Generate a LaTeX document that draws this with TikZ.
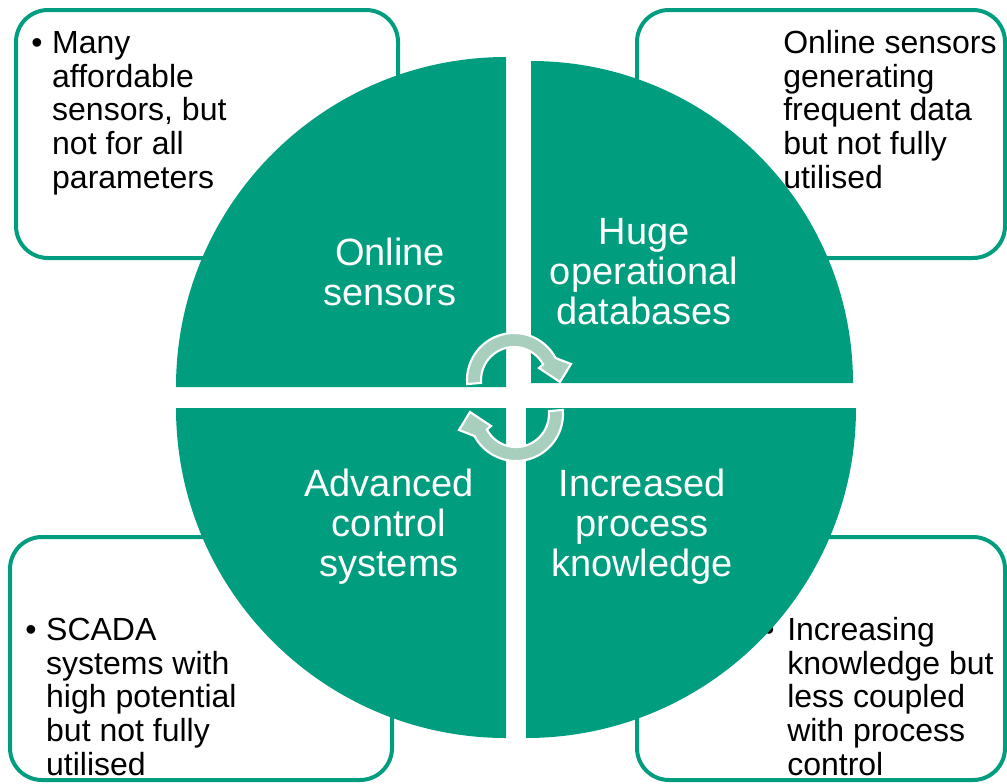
\documentclass[tikz,border=0pt]{standalone}
\usepackage{fontspec}
\setmainfont{Liberation Sans}
\definecolor{cyclegreen}{RGB}{0,158,126}
\definecolor{arrowfill}{RGB}{168,206,190}

\begin{document}
\begin{tikzpicture}[x=0.75pt,y=-0.75pt,
  notebox/.style={draw=cyclegreen, line width=3pt, fill=white, rounded corners=24pt},
  notetext/.style={anchor=north west, inner sep=0pt, font=\fontsize{24}{25.3}\selectfont, text=black},
  quadrant/.style={fill=cyclegreen},
  quadtext/.style={inner sep=0pt, font=\fontsize{28.5}{30}\selectfont, text=white},
  cyclearrow/.style={fill=arrowfill, draw=white, line width=1.6pt, line join=miter}]
\useasboundingbox (0,0) rectangle (1007,783);

% corner note boxes (behind the cycle)
\draw[notebox] (16,10) rectangle (398,258);
\draw[notebox] (637,10) rectangle (1005,258);
\draw[notebox] (10,537) rectangle (392,780);
\draw[notebox] (637,537) rectangle (1005,780);

\node[notetext] (tlnote) at (31,29.4) {\begin{tabular}[t]{@{}l@{\hspace{7.3pt}}l@{}}\textbullet & Many\\ & affordable\\ & sensors, but\\ & not for all\\ & parameters\end{tabular}};
\node[notetext] (trnote) at (783,29.4) {\begin{tabular}[t]{@{}l@{}}Online sensors\\ generating\\ frequent data\\ but not fully\\ utilised\end{tabular}};
\node[notetext] (blnote) at (25,616.4) {\begin{tabular}[t]{@{}l@{\hspace{7.3pt}}l@{}}\textbullet & SCADA\\ & systems with\\ & high potential\\ & but not fully\\ & utilised\end{tabular}};
\node[notetext] (brnote) at (763,616.4) {\begin{tabular}[t]{@{}l@{\hspace{9.6pt}}l@{}}\textbullet & Increasing\\ & knowledge but\\ & less coupled\\ & with process\\ & control\end{tabular}};

% the four quadrants of the cycle
\fill[quadrant] (506,387) -- (176,387) arc[start angle=180, end angle=270, radius=330] -- cycle;
\fill[quadrant] (531,383) -- (531,61) arc[start angle=270, end angle=360, radius=322] -- cycle;
\fill[quadrant] (526,408) -- (856,408) arc[start angle=0, end angle=90, radius=330] -- cycle;
\fill[quadrant] (506,408) -- (506,738) arc[start angle=90, end angle=180, radius=330] -- cycle;

\node[quadtext] (qtl) at (390,277) {\begin{tabular}{@{}c@{}}Online\\ sensors\end{tabular}};
\node[quadtext] (qtr) at (644,276) {\begin{tabular}{@{}c@{}}Huge\\ operational\\ databases\end{tabular}};
\node[quadtext] (qbl) at (389,528) {\begin{tabular}{@{}c@{}}Advanced\\ control\\ systems\end{tabular}};
\node[quadtext] (qbr) at (642,528) {\begin{tabular}{@{}c@{}}Increased\\ process\\ knowledge\end{tabular}};

% circular arrows in the middle
\begin{scope}[shift={(514,380)}]
  \filldraw[cyclearrow] (-185:47) arc[start angle=-185, end angle=-28, radius=47]
    -- (57,-16) -- (46,2) -- (25,-12) -- (-28:33)
    arc[start angle=-28, end angle=-185, radius=33] -- cycle;
\end{scope}
\begin{scope}[shift={(516,414)}, rotate=180]
  \filldraw[cyclearrow] (-185:47) arc[start angle=-185, end angle=-28, radius=47]
    -- (57,-16) -- (46,2) -- (25,-12) -- (-28:33)
    arc[start angle=-28, end angle=-185, radius=33] -- cycle;
\end{scope}
\end{tikzpicture}
\end{document}
